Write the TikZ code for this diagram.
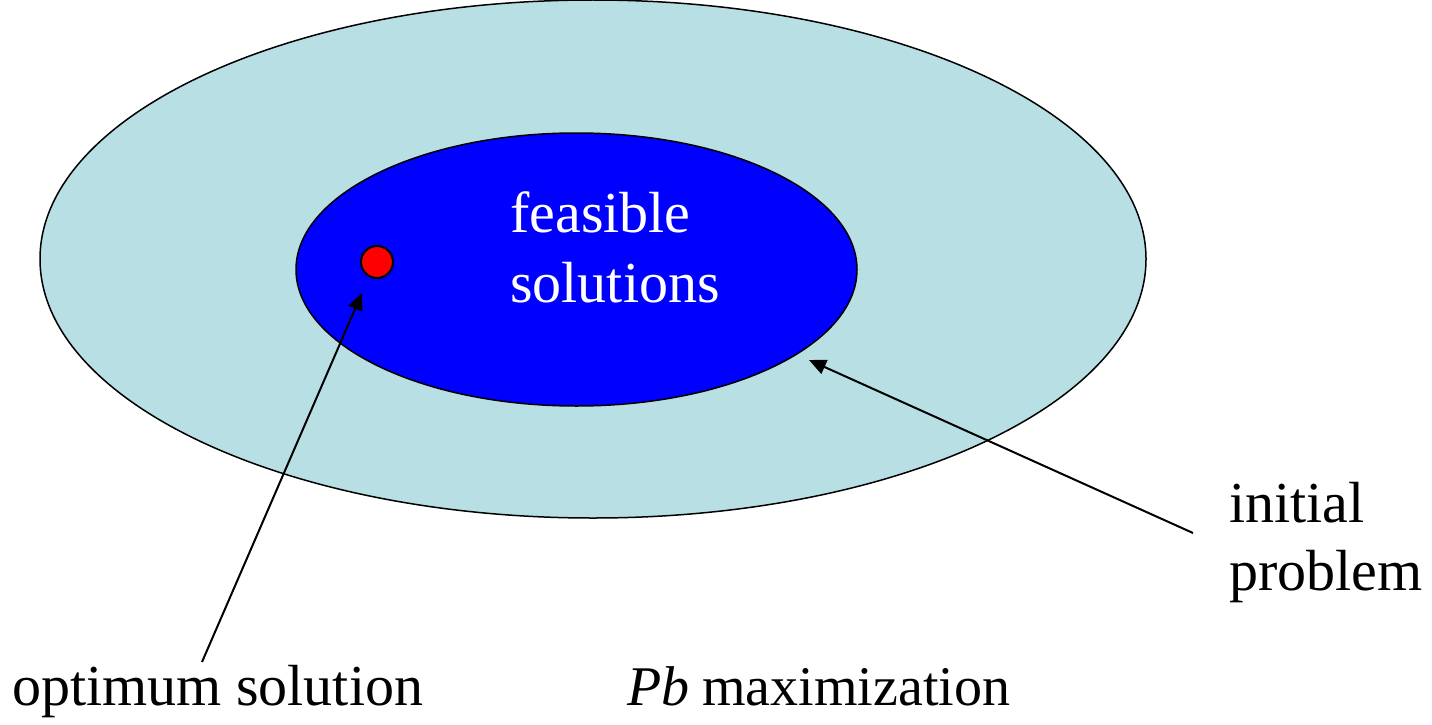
\documentclass[tikz,border=0pt]{standalone}
\usepackage{fontspec}
\setmainfont{Liberation Serif}
\usetikzlibrary{shapes.geometric,arrows.meta}
\definecolor{outerfill}{HTML}{B8E0E4}
\definecolor{innerfill}{HTML}{0000FF}
\definecolor{dotfill}{HTML}{FF0000}
\begin{document}
\begin{tikzpicture}[x=1pt,y=-1pt,
  region/.style={ellipse,draw=black,line width=1.5pt,inner sep=0pt},
  lbl/.style={font=\fontsize{58}{70}\selectfont,inner sep=0pt,anchor=base west},
  pointer/.style={line width=2pt,-{Triangle[length=17pt,width=15pt]}}]
\useasboundingbox (0,0) rectangle (1432,725);
\node[region,fill=outerfill,minimum width=1106pt,minimum height=518pt] (outer) at (593,259) {};
\node[region,fill=innerfill,minimum width=561pt,minimum height=273pt] (inner) at (576.5,269.5) {};
\node[circle,draw=black,line width=2pt,fill=dotfill,minimum size=32pt,inner sep=0pt] (dot) at (377,262) {};
\node[lbl,text=white] (feas) at (510,232) {feasible};
\node[lbl,text=white] (sol) at (510,302) {solutions};
\node[lbl] (init) at (1229,522) {initial};
\node[lbl] (prob) at (1229,590) {problem};
\node[lbl] (opt) at (12,705) {optimum solution};
\node[lbl,font=\fontsize{56}{70}\selectfont] (pbmax) at (627,705) {\textit{Pb}\hspace{13pt}maximization};
\coordinate (t1) at (202,662);
\coordinate (h1) at (362,293);
\coordinate (t2) at (1193,533);
\coordinate (h2) at (809,360);
\draw[pointer] (t1) -- (h1);
\draw[pointer] (t2) -- (h2);
\end{tikzpicture}
\end{document}
